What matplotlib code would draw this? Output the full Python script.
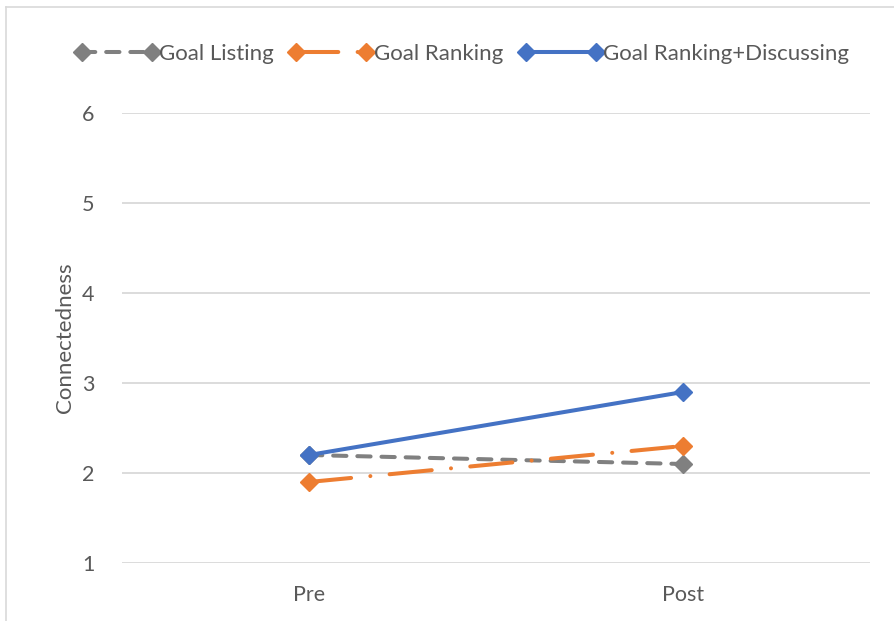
import matplotlib.pyplot as plt
from matplotlib.lines import Line2D
from matplotlib.legend_handler import HandlerLine2D

plt.rcParams['font.family'] = ['Lato', 'DejaVu Sans']

# Données
phases = ["Pre", "Post"]
goal_listing = [2.2, 2.1]
goal_ranking = [1.9, 2.3]
goal_ranking_discussing = [2.2, 2.9]
y_ticks = [1, 2, 3, 4, 5, 6]

text_color = "#595959"
grid_color = "#d9d9d9"

fig = plt.figure(figsize=(8.95, 6.21), dpi=100)
ax = fig.add_axes([122 / 895, 1 - 563 / 621, 748 / 895, 450 / 621])

x = [0.5, 1.5]
lw = 2.9
ms = 9
ax.plot(x, goal_listing, color="#808080", lw=lw, marker="D", markersize=ms,
        dashes=(3.3, 2.7), dash_capstyle="round", label="Goal Listing", zorder=3)
ax.plot(x, goal_ranking, color="#ed7d31", lw=lw, marker="D", markersize=ms,
        dashes=(10.5, 4.8, 0.01, 4.8), dash_capstyle="round", label="Goal Ranking", zorder=3)
ax.plot(x, goal_ranking_discussing, color="#4472c4", lw=lw, marker="D", markersize=ms,
        label="Goal Ranking+Discussing", zorder=4)

ax.set_xlim(0, 2)
ax.set_ylim(1, 6)
ax.set_xticks(x)
ax.set_xticklabels(phases)
ax.set_yticks(y_ticks)
ax.grid(axis="y", color=grid_color, lw=1.3)
ax.set_axisbelow(True)
for s in ax.spines.values():
    s.set_visible(False)
ax.tick_params(length=0, labelsize=15.5, labelcolor=text_color)
ax.tick_params(axis="x", pad=16)
ax.tick_params(axis="y", pad=20)
ax.set_ylabel("Connectedness", fontsize=16, color=text_color, labelpad=5)

fig.legend(loc="center", bbox_to_anchor=(0.5 + 18 / 895, 1 - 54 / 621), ncol=3, frameon=False,
           fontsize=16, labelcolor=text_color, numpoints=2, handlelength=3.15,
           handletextpad=0.35, columnspacing=1.0,
           handler_map={Line2D: HandlerLine2D(marker_pad=0)})

# Cadre du graphique
fig.add_artist(Line2D([6 / 895, 6 / 895], [0, 1 - 7 / 621], color=grid_color, lw=1.2))
fig.add_artist(Line2D([6 / 895, 1], [1 - 7 / 621, 1 - 7 / 621], color=grid_color, lw=1.2))

fig.savefig("out.png", dpi=100)
